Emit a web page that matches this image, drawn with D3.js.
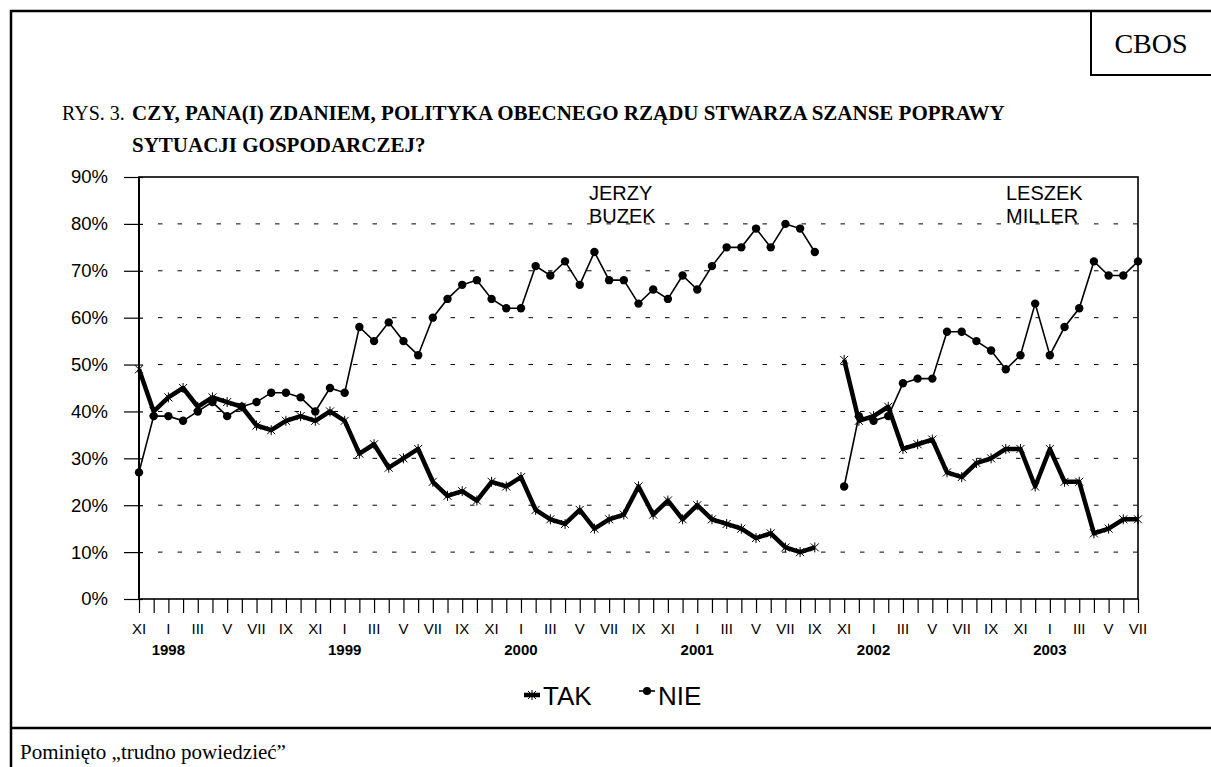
<!DOCTYPE html>
<html>
<head>
<meta charset="utf-8">
<script src="https://cdn.jsdelivr.net/npm/d3@7"></script>
<style>
	body { margin: 0; background: #fff; }
	svg { display: block; }
</style>
</head>
<body>
<div class="chart"></div>
<script>
// dane: odsetki TAK / NIE, miesiecznie od XI 1997 do VII 2003 (X 2001 brak)
const tak = [49, 40, 43, 45, 41, 43, 42, 41, 37, 36,
	38, 39, 38, 40, 38, 31, 33, 28, 30, 32,
	25, 22, 23, 21, 25, 24, 26, 19, 17, 16,
	19, 15, 17, 18, 24, 18, 21, 17, 20, 17,
	16, 15, 13, 14, 11, 10, 11,
	null,
	51, 38, 39, 41, 32, 33, 34, 27, 26, 29,
	30, 32, 32, 24, 32, 25, 25, 14, 15, 17, 17]

const nie = [27, 39, 39, 38, 40, 42, 39, 41, 42, 44,
	44, 43, 40, 45, 44, 58, 55, 59, 55, 52,
	60, 64, 67, 68, 64, 62, 62, 71, 69, 72,
	67, 74, 68, 68, 63, 66, 64, 69, 66, 71,
	75, 75, 79, 75, 80, 79, 74,
	null,
	24, 39, 38, 39, 46, 47, 47, 57, 57, 55,
	53, 49, 52, 63, 52, 58, 62, 72, 69, 69, 72]

const categories = d3.timeMonth.range(new Date(1997, 10, 1), new Date(2003, 7, 1))

const tickLabels = ["XI", "I", "III", "V", "VII", "IX",
	"XI", "I", "III", "V", "VII", "IX",
	"XI", "I", "III", "V", "VII", "IX",
	"XI", "I", "III", "V", "VII", "IX",
	"XI", "I", "III", "V", "VII", "IX",
	"XI", "I", "III", "V", "VII"]

const yearLabels = ["1998", "1999", "2000", "2001", "2002", "2003"]
const yTicks = [0, 10, 20, 30, 40, 50, 60, 70, 80, 90]

const svgWidth = 1211
const svgHeight = 767

let margin = { top: 177, right: 73, left: 139, bottom: 168 }
let width = svgWidth - margin.left - margin.right
let height = svgHeight - margin.top - margin.bottom

const sans = "'Liberation Sans', Arial, sans-serif"
const serif = "'Liberation Serif', 'Times New Roman', serif"

let svg = d3.select(".chart")
	.append("svg")
	.attr("width", svgWidth)
	.attr("height", svgHeight)

// ramka strony
svg.append("path")
	.attr("d", "M11,767 L11,11 L1211,11")
	.attr("fill", "none").attr("stroke", "#000").attr("stroke-width", 2.5)
svg.append("path")
	.attr("d", "M1091,11 L1091,75 L1211,75")
	.attr("fill", "none").attr("stroke", "#000").attr("stroke-width", 2)
svg.append("line")
	.attr("x1", 11).attr("x2", 1211).attr("y1", 728).attr("y2", 728)
	.attr("stroke", "#000").attr("stroke-width", 2.5)

svg.append("text")
	.attr("x", 1151).attr("y", 53)
	.attr("text-anchor", "middle")
	.style("font-family", serif).style("font-size", "28px")
	.text("CBOS")

svg.append("text")
	.attr("x", 62).attr("y", 120)
	.style("font-family", serif).style("font-size", "20px")
	.text("RYS. 3.")

let title = svg.append("text")
	.style("font-family", serif).style("font-size", "21px").style("font-weight", "bold")
title.append("tspan").attr("x", 132).attr("y", 120)
	.text("CZY, PANA(I) ZDANIEM, POLITYKA OBECNEGO RZĄDU STWARZA SZANSE POPRAWY")
title.append("tspan").attr("x", 132).attr("y", 152)
	.text("SYTUACJI GOSPODARCZEJ?")

svg.append("text")
	.attr("x", 20).attr("y", 759)
	.style("font-family", serif).style("font-size", "21px")
	.text("Pominięto „trudno powiedzieć”")

let chartGroup = svg.append("g")
	.attr("transform", `translate(${margin.left}, ${margin.top})`)

let x = d3.scalePoint()
	.domain(categories.map((d, i) => i))
	.range([0, width])

let y = d3.scaleLinear()
	.domain([0, 90])
	.range([height, 0])

// linie siatki
chartGroup.selectAll(".grid")
	.data(yTicks.filter(d => d > 0 && d < 90))
	.enter()
	.append("line")
	.attr("x1", 19).attr("x2", width)
	.attr("y1", d => y(d)).attr("y2", d => y(d))
	.attr("stroke", "#000").attr("stroke-width", 1)
	.attr("stroke-dasharray", "4.5,15")

// os Y
let leftAxis = d3.axisLeft(y).tickValues(yTicks).tickFormat(d => d + "%").tickSize(15).tickPadding(16)
let yAxis = chartGroup.append("g").call(leftAxis)
yAxis.select(".domain").remove()
yAxis.selectAll("line").attr("x2", 4).attr("x1", -15).attr("stroke-width", 1.2)
yAxis.selectAll("text")
	.attr("x", -31)
	.style("font-family", sans).style("font-size", "18.5px").attr("fill", "#000")

// os X - kreski co miesiac
let bottomAxis = d3.axisBottom(x).tickSize(14).tickFormat("")
let xAxis = chartGroup.append("g")
	.attr("transform", `translate(0, ${height})`)
	.call(bottomAxis)
xAxis.select(".domain").remove()
xAxis.selectAll("line").attr("stroke-width", 1.2)

chartGroup.append("g").selectAll("text")
	.data(tickLabels)
	.enter()
	.append("text")
	.attr("x", (d, i) => x(i * 2))
	.attr("y", height + 35)
	.attr("text-anchor", "middle")
	.style("font-family", sans).style("font-size", "15px")
	.text(d => d)

chartGroup.append("g").selectAll("text")
	.data(yearLabels)
	.enter()
	.append("text")
	.attr("x", (d, i) => x(2 + i * 12))
	.attr("y", height + 56)
	.attr("text-anchor", "middle")
	.style("font-family", sans).style("font-size", "15px").style("font-weight", "bold")
	.text(d => d)

// ramka wykresu
chartGroup.append("rect")
	.attr("width", width).attr("height", height)
	.attr("fill", "none").attr("stroke", "#000").attr("stroke-width", 1.6)
chartGroup.append("line")
	.attr("x1", 0).attr("x2", 0).attr("y1", 0).attr("y2", height)
	.attr("stroke", "#000").attr("stroke-width", 2)

// adnotacje
let notes = [["JERZY", "BUZEK", 589], ["LESZEK", "MILLER", 1006]]
notes.forEach(n => {
	let t = chartGroup.append("text")
		.style("font-family", sans).style("font-size", "20px")
	t.append("tspan").attr("x", n[2] - margin.left).attr("y", 23).text(n[0])
	t.append("tspan").attr("x", n[2] - margin.left).attr("y", 46).text(n[1])
})

function lineOf(values) {
	return d3.line()
		.defined(d => d.v != null)
		.x(d => x(d.i))
		.y(d => y(d.v))(values.map((v, i) => ({ v: v, i: i })))
}

const starPath = "M-4,-4L4,4M-4,4L4,-4M0,-5L0,5"

chartGroup.append("path")
	.attr("d", lineOf(nie))
	.attr("fill", "none").attr("stroke", "#000").attr("stroke-width", 1.6)

chartGroup.selectAll(".dot")
	.data(nie.map((v, i) => ({ v: v, i: i })).filter(d => d.v != null))
	.enter()
	.append("circle")
	.attr("cx", d => x(d.i))
	.attr("cy", d => y(d.v))
	.attr("r", 4.2)
	.attr("fill", "#000")

chartGroup.append("path")
	.attr("d", lineOf(tak))
	.attr("fill", "none").attr("stroke", "#000").attr("stroke-width", 4.5)
	.attr("stroke-linejoin", "round")

chartGroup.selectAll(".star")
	.data(tak.map((v, i) => ({ v: v, i: i })).filter(d => d.v != null))
	.enter()
	.append("path")
	.attr("transform", d => `translate(${x(d.i)}, ${y(d.v)})`)
	.attr("d", starPath)
	.attr("stroke", "#000").attr("stroke-width", 1)

// legenda
let legend = svg.append("g").attr("transform", "translate(0, 695)")
legend.append("line").attr("x1", 524).attr("x2", 540).attr("y1", 0).attr("y2", 0)
	.attr("stroke", "#000").attr("stroke-width", 4.5)
legend.append("path").attr("transform", "translate(532, 0)").attr("d", starPath)
	.attr("stroke", "#000").attr("stroke-width", 1)
legend.append("text").attr("x", 543).attr("y", 10)
	.style("font-family", sans).style("font-size", "26px").text("TAK")
legend.append("line").attr("x1", 639).attr("x2", 655).attr("y1", -4).attr("y2", -4)
	.attr("stroke", "#000").attr("stroke-width", 1.6)
legend.append("circle").attr("cx", 647).attr("cy", -4).attr("r", 4)
legend.append("text").attr("x", 658).attr("y", 10)
	.style("font-family", sans).style("font-size", "26px").text("NIE")
</script>
</body>
</html>
